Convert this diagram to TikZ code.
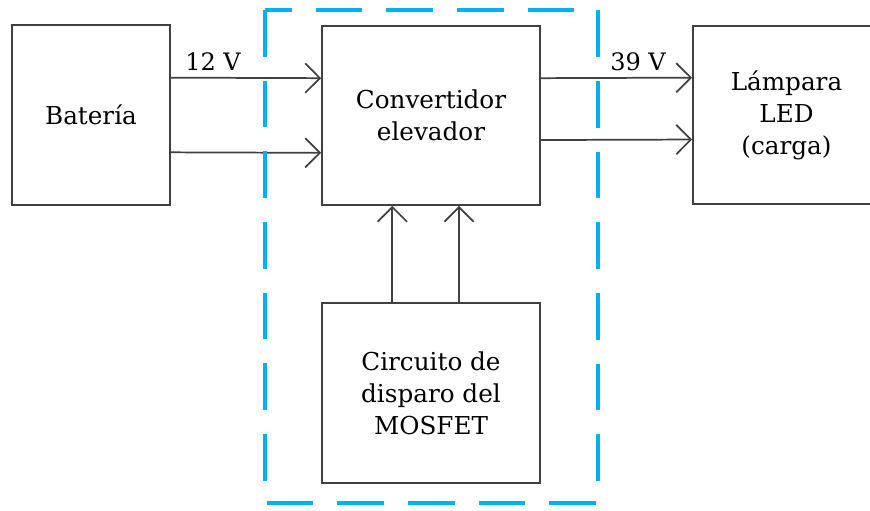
\documentclass[tikz,border=0pt]{standalone}
\usepackage{fontspec}
\setmainfont{DejaVu Serif}
\usetikzlibrary{arrows.meta}
\definecolor{dashblue}{RGB}{0,176,240}
\definecolor{linegray}{RGB}{64,64,64}

\begin{document}
\begin{tikzpicture}[x=0.75pt,y=-0.75pt,
  block/.style={draw=linegray, line width=1.3pt, align=center, inner sep=0pt,
    font=\fontsize{18.5}{24}\selectfont},
  link/.style={draw=linegray, line width=1.3pt, -{Straight Barb[length=11pt,width=22pt]}},
  volt/.style={font=\fontsize{18}{20}\selectfont, anchor=base west, inner sep=0pt}]
  \useasboundingbox (0,0) rectangle (870,510);
  \node[block, minimum width=118.5pt, minimum height=135pt] (bat) at (91,115) {Batería};
  \node[block, minimum width=163.5pt, minimum height=134.25pt] (conv) at (431,115.5) {Convertidor\\elevador};
  \node[block, minimum width=163.5pt, minimum height=135pt] (mos) at (431,393) {Circuito de\\disparo del\\MOSFET};
  \node[block, minimum width=140.25pt, minimum height=133.5pt] (lamp) at (786.5,115) {Lámpara\\LED\\(carga)};
  \node[volt] (v12) at (185,70) {12 V};
  \node[volt] (v39) at (610,70) {39 V};
  \draw[link] ([yshift=28pt]bat.east) -- ([yshift=28pt]conv.west);
  \draw[link] ([yshift=-28pt]bat.east) -- ([yshift=-28pt]conv.west);
  \draw[link] ([yshift=28pt]conv.east) -- ([yshift=28pt]lamp.west);
  \draw[link] ([yshift=-18.4pt]conv.east) -- ([yshift=-18.4pt]lamp.west);
  \draw[link] ([xshift=-29pt]mos.north) -- ([xshift=-29pt]conv.south);
  \draw[link] ([xshift=21pt]mos.north) -- ([xshift=21pt]conv.south);
  \draw[dashblue, line width=3pt, dash pattern=on 35pt off 18pt] (265,10) rectangle (598,503);
\end{tikzpicture}
\end{document}
